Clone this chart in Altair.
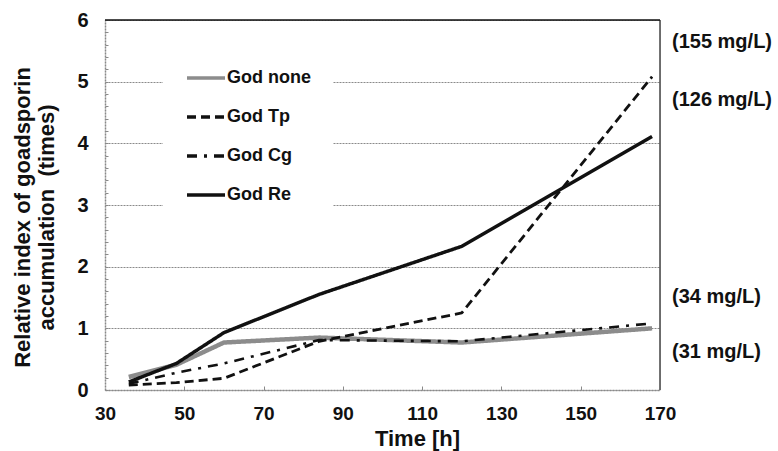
import altair as alt
import pandas as pd

# Sampling times (h)
times = [36, 48, 60, 84, 120, 168]

# Relative index of goadsporin accumulation for each condition
god_none = [0.21, 0.41, 0.77, 0.85, 0.77, 1.00]
god_tp = [0.08, 0.12, 0.19, 0.79, 1.25, 5.08]
god_cg = [0.10, 0.28, 0.43, 0.81, 0.79, 1.08]
god_re = [0.13, 0.43, 0.93, 1.55, 2.33, 4.11]

series_names = ["God none", "God Tp", "God Cg", "God Re"]
series_values = [god_none, god_tp, god_cg, god_re]
series_colors = ["#8c8c8c", "#111111", "#111111", "#111111"]
series_dashes = [[1, 0], [9, 5], [10, 7, 3, 7], [1, 0]]
series_widths = [4.5, 2.8, 2.6, 3.5]

# Final concentrations written beside the plot, with their vertical anchor
conc_text = ["(155 mg/L)", "(126 mg/L)", "(34 mg/L)", "(31 mg/L)"]
conc_y = [5.64, 4.70, 1.51, 0.62]

x_ticks = [30, 50, 70, 90, 110, 130, 150, 170]
y_ticks = [0, 1, 2, 3, 4, 5, 6]
y_minor = [round(i * 0.2, 1) for i in range(31)]

rows = []
for name, vals, w in zip(series_names, series_values, series_widths):
    for t, v in zip(times, vals):
        rows.append({"time": t, "value": v, "series": name, "width": w})
df = pd.DataFrame(rows)
conc_df = pd.DataFrame({"label": conc_text, "y": conc_y})
frame_df = pd.DataFrame({"x0": [30], "x1": [170], "ytop": [6]})

FONT = "Liberation Sans"
W, H = 555, 370


def xs():
    return alt.Scale(domain=[30, 170], nice=False, zero=False)


def ys():
    return alt.Scale(domain=[0, 6], nice=False)


x_axis = alt.Axis(
    values=x_ticks, title="Time [h]", ticks=False, grid=False, format="d",
    domainColor="#8a8a8a", domainDash=[2, 1], domainWidth=1.5,
    labelFont=FONT, labelFontSize=19, labelFontWeight="bold", labelColor="#111",
    labelPadding=14, labelFlush=False,
    titleFont=FONT, titleFontSize=22, titleFontWeight="bold", titleColor="#111",
    titleX=312, titleY=55, titleBaseline="alphabetic", titleAlign="center",
)
y_axis = alt.Axis(
    values=y_ticks,
    title=["Relative index of goadsporin", "accumulation \u00a0(times)"],
    format="d",
    ticks=False, grid=True, gridColor="#8a8a8a", gridDash=[2, 1], gridWidth=1,
    domainColor="#8a8a8a", domainDash=[2, 1], domainWidth=1.5,
    labelFont=FONT, labelFontSize=20, labelFontWeight="bold", labelColor="#111",
    labelPadding=17,
    titleFont=FONT, titleFontSize=22, titleFontWeight="bold", titleColor="#111",
    titleLineHeight=24, titleX=-83, titleY=197, titleAlign="center",
    titleBaseline="middle", titleAngle=270,
)

lines = alt.Chart(df).mark_line(strokeCap="butt", strokeJoin="round").encode(
    x=alt.X("time:Q", scale=xs(), axis=x_axis),
    y=alt.Y("value:Q", scale=ys(), axis=y_axis),
    color=alt.Color(
        "series:N",
        scale=alt.Scale(domain=series_names, range=series_colors),
        legend=alt.Legend(
            title=None, orient="none", legendX=58, legendY=15,
            fillColor="white", padding=22, symbolType="stroke", symbolSize=1444,
            symbolStrokeWidth=3.5, rowPadding=9, labelOffset=0,
            labelFont=FONT, labelFontSize=18, labelFontWeight="bold", labelColor="#111",
        ),
    ),
    strokeDash=alt.StrokeDash(
        "series:N", scale=alt.Scale(domain=series_names, range=series_dashes),
    ),
    strokeWidth=alt.StrokeWidth("width:Q", scale=None, legend=None),
    order=alt.Order("time:Q"),
)

# Solid frame along the right edge
right_rule = alt.Chart(frame_df).mark_rule(color="#444", strokeWidth=1.5).encode(
    x=alt.X("x1:Q", scale=xs()),
)

conc_labels = alt.Chart(conc_df).mark_text(
    align="left", baseline="middle", dx=12, font=FONT, fontSize=20,
    fontWeight="bold", color="#111",
).encode(
    x=alt.X(datum=170, scale=xs()),
    y=alt.Y("y:Q", scale=ys()),
    text="label:N",
)

base = alt.layer(lines, right_rule, conc_labels)

# Solid frame along the top edge; its axes supply the small inner ticks
top_frame = alt.Chart(frame_df).mark_rule(color="#111", strokeWidth=1.5).encode(
    x=alt.X("x0:Q", scale=xs(), axis=alt.Axis(
        orient="top", offset=-H, values=x_ticks[1:-1], labels=False, ticks=True,
        tickSize=4, tickColor="#8a8a8a", domain=False, grid=False, title=None,
    )),
    x2="x1:Q",
    y=alt.Y("ytop:Q", scale=ys(), axis=alt.Axis(
        orient="right", offset=-W, values=y_minor, labels=False, ticks=True,
        tickSize=3, tickColor="#8a8a8a", domain=False, grid=False, title=None,
    )),
)

chart = alt.layer(base, top_frame).resolve_scale(
    x="independent", y="independent"
).properties(
    width=W, height=H,
    autosize=alt.AutoSizeParams(type="none"),
    padding={"left": 105, "top": 20, "right": 118, "bottom": 61},
).configure_view(stroke=None).configure(background="white")

chart.save("out.html", embed_options={"renderer": "svg", "actions": False})
